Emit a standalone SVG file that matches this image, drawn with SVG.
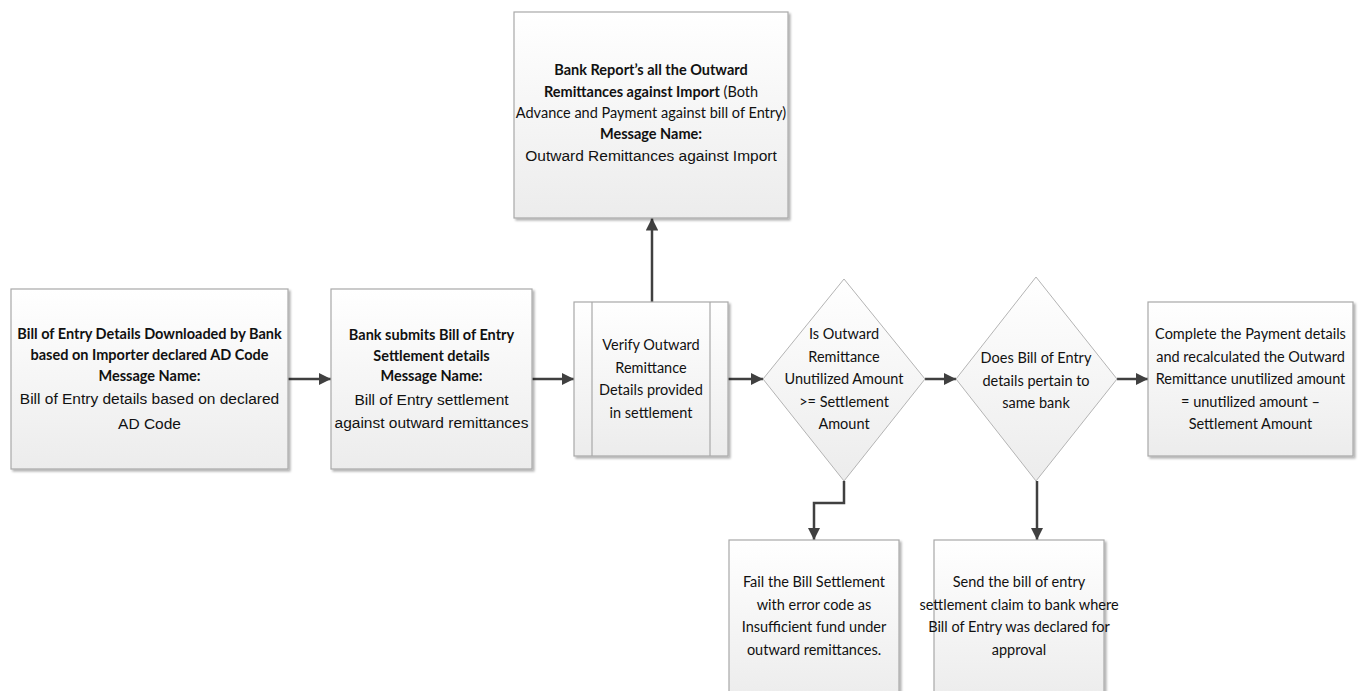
<svg xmlns="http://www.w3.org/2000/svg" width="1371" height="691" viewBox="0 0 1371 691">
  <style>
    .box { fill: url(#boxFill); stroke: #a9a9a9; stroke-width: 1.2; filter: url(#shadow); }
    .dia { fill: url(#boxFill); stroke: #b4b4b4; stroke-width: 1; }
    .bar { stroke: #a9a9a9; stroke-width: 1.2; fill: none; }
    .cal { font-family: Lato, "Open Sans", sans-serif; font-size: 14.5px; fill: #111; text-anchor: middle; }
    .b { font-weight: bold; }
    .ari { font-family: "Liberation Sans", Arial, sans-serif; font-size: 15.5px; fill: #111; text-anchor: middle; }
    .conn { stroke: #404040; stroke-width: 2.5; fill: none; marker-end: url(#arrow); }
  </style>
  <defs>
    <linearGradient id="boxFill" x1="0" y1="0" x2="0" y2="1">
      <stop offset="0" stop-color="#ffffff"/>
      <stop offset="1" stop-color="#ececec"/>
    </linearGradient>
    <filter id="shadow" x="-5%" y="-5%" width="115%" height="115%">
      <feDropShadow dx="2" dy="2" stdDeviation="1.2" flood-color="#000" flood-opacity="0.3"/>
    </filter>
    <marker id="arrow" viewBox="0 0 10 10" refX="10" refY="5" markerWidth="5" markerHeight="5" markerUnits="strokeWidth" orient="auto">
      <path d="M0,0 L10,5 L0,10 z" fill="#404040"/>
    </marker>
  </defs>

  <!-- connectors -->
  <g id="connectors">
    <path class="conn" d="M288,379 H331"/>
    <path class="conn" d="M532,379 H574"/>
    <path class="conn" d="M728,379 H763"/>
    <path class="conn" d="M925,379 H956"/>
    <path class="conn" d="M1117,379 H1148"/>
    <path class="conn" d="M652,302 V218"/>
    <path class="conn" d="M844,481 V503 H814 V540"/>
    <path class="conn" d="M1037,481 V540"/>
  </g>

  <!-- outward remittance report -->
  <g id="report">
    <rect class="box" x="514" y="12" width="274" height="206"/>
    <text class="cal b" x="651" y="75">Bank Report’s all the Outward</text>
    <text class="cal" x="651" y="97"><tspan font-weight="bold">Remittances against Import</tspan> (Both</text>
    <text class="cal" x="651" y="118">Advance and Payment against bill of Entry)</text>
    <text class="cal b" x="651" y="139">Message Name:</text>
    <text class="ari" x="651" y="161">Outward Remittances against Import</text>
  </g>

  <!-- bill of entry download -->
  <g id="download">
    <rect class="box" x="11" y="289" width="277" height="180"/>
    <text class="cal b" x="149.5" y="339">Bill of Entry Details Downloaded by Bank</text>
    <text class="cal b" x="149.5" y="360">based on Importer declared AD Code</text>
    <text class="cal b" x="149.5" y="381">Message Name:</text>
    <text class="ari" x="149.5" y="404">Bill of Entry details based on declared</text>
    <text class="ari" x="149.5" y="429">AD Code</text>
  </g>

  <!-- settlement submission -->
  <g id="submit">
    <rect class="box" x="331" y="289" width="201" height="180"/>
    <text class="cal b" x="431.5" y="340">Bank submits Bill of Entry</text>
    <text class="cal b" x="431.5" y="361">Settlement details</text>
    <text class="cal b" x="431.5" y="381">Message Name:</text>
    <text class="ari" x="431.5" y="405">Bill of Entry settlement</text>
    <text class="ari" x="431.5" y="428">against outward remittances</text>
  </g>

  <!-- verification subprocess -->
  <g id="verify">
    <rect class="box" x="574" y="302" width="154" height="154"/>
    <path class="bar" d="M592,302 V456 M710,302 V456"/>
    <text class="cal" x="651" y="350">Verify Outward</text>
    <text class="cal" x="651" y="373">Remittance</text>
    <text class="cal" x="651" y="395">Details provided</text>
    <text class="cal" x="651" y="418">in settlement</text>
  </g>

  <!-- funds decision -->
  <g id="funds">
    <path class="dia" d="M844,279 L925,379 L844,481 L763,379 Z"/>
    <text class="cal" x="844" y="339">Is Outward</text>
    <text class="cal" x="844" y="362">Remittance</text>
    <text class="cal" x="844" y="384">Unutilized Amount</text>
    <text class="cal" x="844" y="407">&gt;= Settlement</text>
    <text class="cal" x="844" y="429">Amount</text>
  </g>

  <!-- same bank decision -->
  <g id="samebank">
    <path class="dia" d="M1036,277 L1117,379 L1036,481 L956,379 Z"/>
    <text class="cal" x="1036" y="363">Does Bill of Entry</text>
    <text class="cal" x="1036" y="386">details pertain to</text>
    <text class="cal" x="1036" y="408">same bank</text>
  </g>

  <!-- payment completion -->
  <g id="complete">
    <rect class="box" x="1148" y="302" width="205" height="154"/>
    <text class="cal" x="1250.5" y="339">Complete the Payment details</text>
    <text class="cal" x="1250.5" y="362">and recalculated the Outward</text>
    <text class="cal" x="1250.5" y="384">Remittance unutilized amount</text>
    <text class="cal" x="1250.5" y="407">= unutilized amount –</text>
    <text class="cal" x="1250.5" y="429">Settlement Amount</text>
  </g>

  <!-- insufficient fund failure -->
  <g id="fail">
    <rect class="box" x="729" y="540" width="170" height="160"/>
    <text class="cal" x="814" y="587">Fail the Bill Settlement</text>
    <text class="cal" x="814" y="610">with error code as</text>
    <text class="cal" x="814" y="632">Insufficient fund under</text>
    <text class="cal" x="814" y="655">outward remittances.</text>
  </g>

  <!-- claim forwarding -->
  <g id="forward">
    <rect class="box" x="934" y="540" width="170" height="160"/>
    <text class="cal" x="1019" y="587">Send the bill of entry</text>
    <text class="cal" x="1019" y="610">settlement claim to bank where</text>
    <text class="cal" x="1019" y="632">Bill of Entry was declared for</text>
    <text class="cal" x="1019" y="655">approval</text>
  </g>
</svg>
